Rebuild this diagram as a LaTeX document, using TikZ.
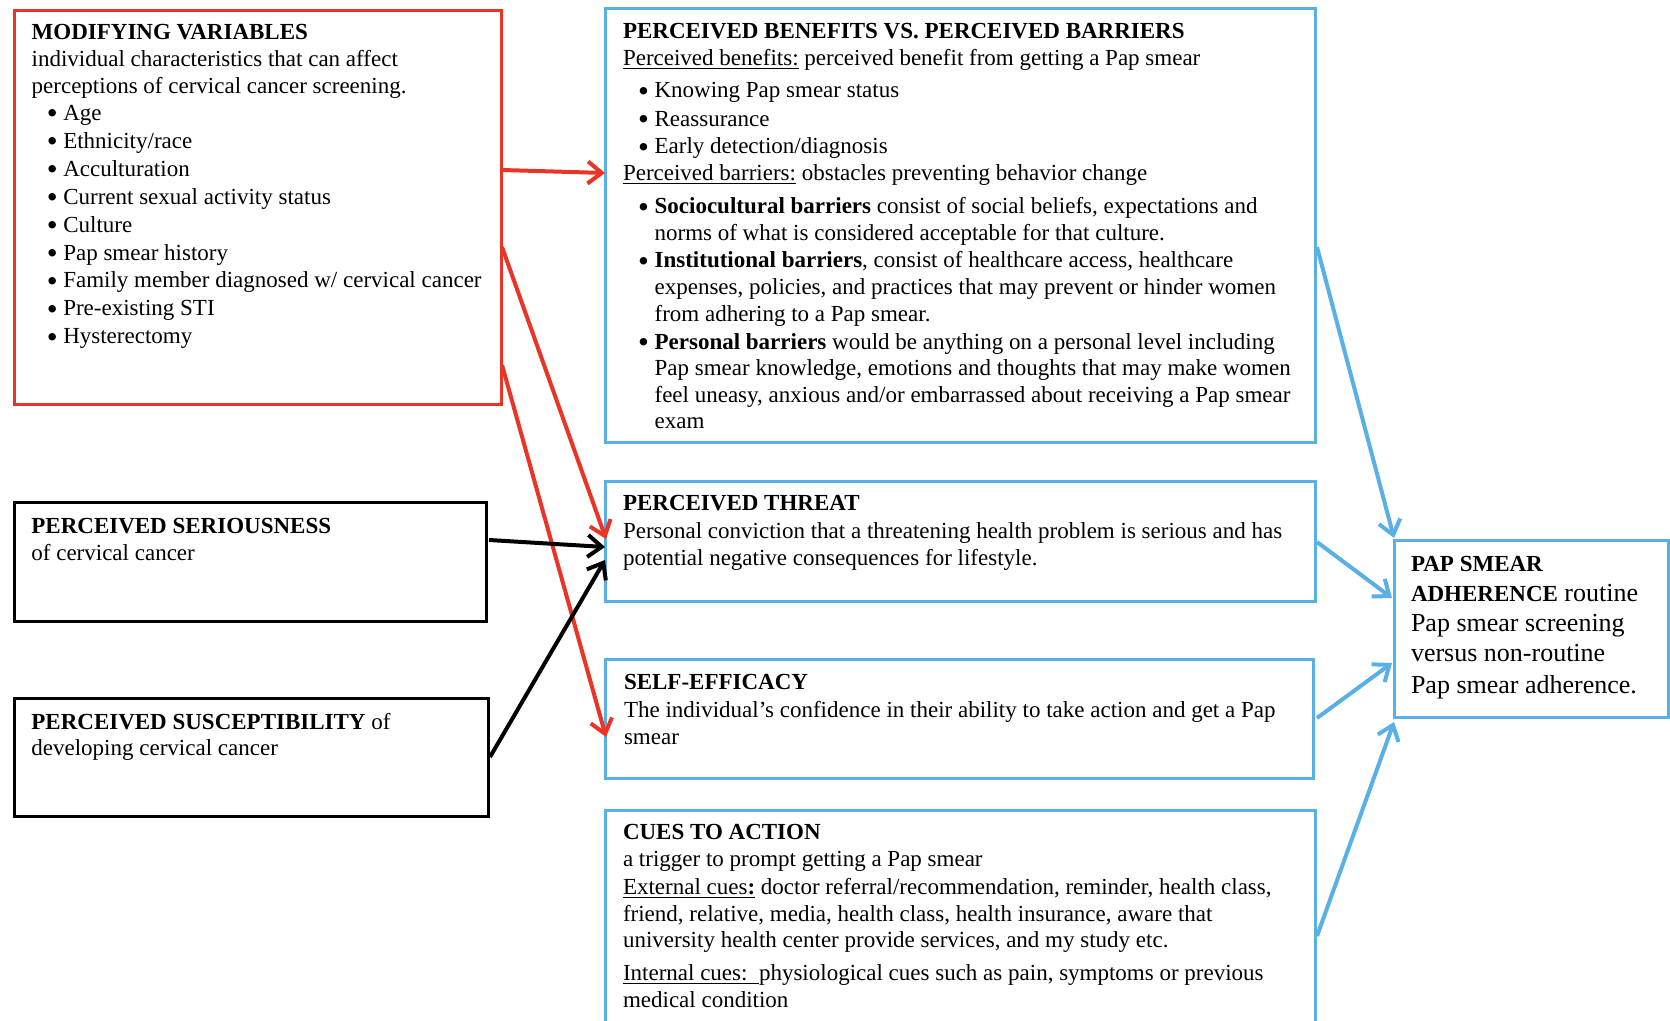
\documentclass[tikz,border=0pt]{standalone}
\usepackage{fontspec}
\setmainfont{Liberation Serif}
\usetikzlibrary{arrows.meta,calc,fit}
\definecolor{hbmred}{RGB}{234,52,38}
\definecolor{hbmblue}{RGB}{88,176,230}
\newcommand\bl{\hspace*{7.6pt}\makebox[8.2pt][l]{\raisebox{-1.7pt}{\scalebox{1.35}{\textbullet}}}}
\newcommand\ind{\hspace*{15.8pt}}
\newcommand\fs{\rule{0pt}{8pt}}
\newcommand\hb[1]{{\fontsize{11.5}{15}\selectfont\textbf{#1}}}
\begin{document}
\begin{tikzpicture}[x=0.5pt,y=-0.5pt,
  boxbase/.style={line width=1.5pt,inner sep=0pt,outer sep=0pt},
  redbox/.style={boxbase,draw=hbmred},
  bluebox/.style={boxbase,draw=hbmblue},
  blackbox/.style={boxbase,draw=black},
  txt/.style={anchor=north west,inner sep=0pt,outer sep=0pt,align=left,font=\fontsize{11.5}{13.3}\selectfont},
  bigtxt/.style={txt,font=\fontsize{13}{15}\selectfont},
  conn/.style={line width=2pt,-{Straight Barb[length=7pt,width=11pt]}},
  redarrow/.style={conn,draw=hbmred},
  bluearrow/.style={conn,draw=hbmblue},
  blackarrow/.style={conn,draw=black}]
\useasboundingbox (0,0) rectangle (1670,1021);
\clip (0,0) rectangle (1670,1021);

% boxes
\node[redbox,fit={(14,11)(501,405)}] (mod) {};
\node[bluebox,fit={(605,9)(1315,443)}] (ben) {};
\node[bluebox,fit={(605,481)(1315,601)}] (thr) {};
\node[bluebox,fit={(605,659)(1313,778)}] (self) {};
\node[bluebox,fit={(605,810)(1315,1050)}] (cues) {};
\node[blackbox,fit={(14,502)(486,621)}] (ser) {};
\node[blackbox,fit={(14,698)(488,816)}] (sus) {};
\node[bluebox,fit={(1394,540)(1668,717)}] (adh) {};

% texts
\node[txt] (modt) at (31.7,24) {\fs\textbf{MODIFYING VARIABLES}\\
individual characteristics that can affect\\
perceptions of cervical cancer screening.\\[0.4pt]
\bl Age\\[0.65pt]
\bl Ethnicity/race\\[0.65pt]
\bl Acculturation\\[0.65pt]
\bl Current sexual activity status\\[0.65pt]
\bl Culture\\[0.65pt]
\bl Pap smear history\\[0.65pt]
\bl Family member diagnosed w/ cervical cancer\\[0.65pt]
\bl Pre-existing STI\\[0.65pt]
\bl Hysterectomy};

\node[txt] (bent) at (623,23) {\fs\textbf{PERCEIVED BENEFITS VS. PERCEIVED BARRIERS}\\
\underline{Perceived benefits:} perceived benefit from getting a Pap smear\\[2.8pt]
\bl Knowing Pap smear status\\[0.8pt]
\bl Reassurance\\[0.6pt]
\bl Early detection/diagnosis\\[0.1pt]
\underline{Perceived barriers:} obstacles preventing behavior change\\[3.2pt]
\bl\textbf{Sociocultural barriers} consist of social beliefs, expectations and\\
\ind norms of what is considered acceptable for that culture.\\[0.6pt]
\bl\textbf{Institutional barriers}, consist of healthcare access, healthcare\\
\ind expenses, policies, and practices that may prevent or hinder women\\
\ind from adhering to a Pap smear.\\[0.6pt]
\bl\textbf{Personal barriers} would be anything on a personal level including\\
\ind Pap smear knowledge, emotions and thoughts that may make women\\
\ind feel uneasy, anxious and/or embarrassed about receiving a Pap smear\\
\ind exam};

\node[txt] (thrt) at (623,494.5) {\fs\textbf{PERCEIVED THREAT}\\[0.7pt]
Personal conviction that a threatening health problem is serious and has\\
potential negative consequences for lifestyle.};

\node[txt] (selft) at (624,673.5) {\fs\textbf{SELF-EFFICACY}\\[0.7pt]
The individual’s confidence in their ability to take action and get a Pap\\
smear};

\node[txt] (cuest) at (623,823.5) {\fs\textbf{CUES TO ACTION}\\
a trigger to prompt getting a Pap smear\\[0.9pt]
\underline{External cues\textbf{:}} doctor referral/recommendation, reminder, health class,\\
friend, relative, media, health class, health insurance, aware that\\
university health center provide services, and my study etc.\\[3.2pt]
\underline{Internal cues:\ \ }physiological cues such as pain, symptoms or previous\\
medical condition};

\node[txt] (sert) at (31.4,517) {\fs\textbf{PERCEIVED SERIOUSNESS}\\[0.5pt]
of cervical cancer};

\node[txt] (sust) at (31.4,713) {\fs\textbf{PERCEIVED SUSCEPTIBILITY} of\\
developing cervical cancer};

\node[bigtxt] (adht) at (1411,555) {\fs\hb{PAP SMEAR}\\
\hb{ADHERENCE} routine\\
Pap smear screening\\
versus non-routine\\[1pt]
Pap smear adherence.};

% connectors
\draw[redarrow] ($(mod.north east)+(1,159)$) -- ($(ben.north west)+(0,164)$);
\draw[redarrow] ($(mod.north east)+(1,236)$) -- ($(thr.north west)+(1,58)$);
\draw[redarrow] ($(mod.north east)+(1,354)$) -- ($(self.north west)+(1,78)$);
\draw[blackarrow] ($(ser.north east)+(3,38)$) -- ($(thr.north west)+(0,66)$);
\draw[blackarrow] ($(sus.north east)+(2,59)$) -- ($(thr.north west)+(0,79)$);
\draw[bluearrow] ($(ben.north east)+(2,238)$) -- ($(adh.north west)+(0,-2)$);
\draw[bluearrow] ($(thr.north east)+(2,61)$) -- ($(adh.north west)+(-2,58)$);
\draw[bluearrow] ($(self.north east)+(4,59)$) -- ($(adh.north west)+(-2,123)$);
\draw[bluearrow] ($(cues.north east)+(2,126)$) -- ($(adh.south west)+(0,5)$);
\end{tikzpicture}
\end{document}
